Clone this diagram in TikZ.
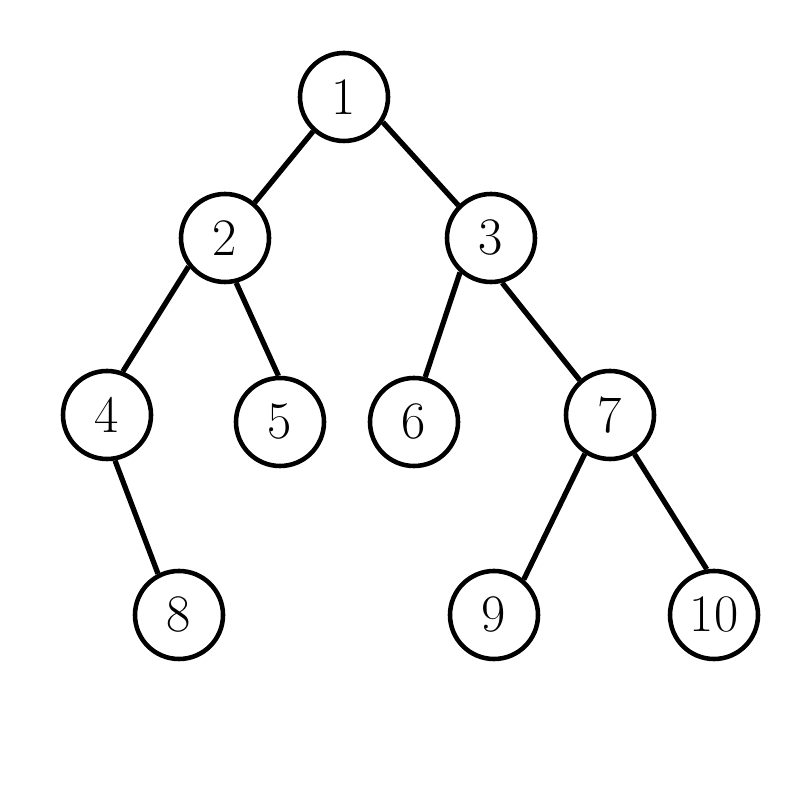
\documentclass[tikz,border=0pt]{standalone}
\usepackage{tikz}
\usetikzlibrary{positioning}
\tikzset{
  vertex/.style={circle, draw=black, fill=white, minimum size=0.88cm,
    inner sep=0pt, line width=1.3pt, font=\fontsize{15}{18}\selectfont},
  edge/.style={line width=1.5pt, color=black}
}
\begin{document}
\begin{tikzpicture}
  \useasboundingbox (0,0) rectangle (8,8);
  \node[vertex] (n1) at (3.44,7.03) {1};
  \node[vertex] (n2) at (2.25,5.62) {2};
  \node[vertex] (n3) at (4.91,5.62) {3};
  \node[vertex] (n4) at (1.07,3.85) {4};
  \node[vertex] (n5) at (2.80,3.78) {5};
  \node[vertex] (n6) at (4.14,3.78) {6};
  \node[vertex] (n7) at (6.10,3.85) {7};
  \node[vertex] (n8) at (1.79,1.85) {8};
  \node[vertex] (n9) at (4.94,1.85) {9};
  \node[vertex] (n10) at (7.14,1.85) {10};

  \draw[edge] (n1.228) -- (n2.50);
  \draw[edge] (n1.327) -- (n3.135);
  \draw[edge] (n2.218) -- (n4.70);
  \draw[edge] (n2.284) -- (n5.92);
  \draw[edge] (n3.228) -- (n6.76);
  \draw[edge] (n3.284) -- (n7.131);
  \draw[edge] (n4.280) -- (n8.117);
  \draw[edge] (n7.237) -- (n9.50);
  \draw[edge] (n7.302) -- (n10.99);
\end{tikzpicture}
\end{document}
